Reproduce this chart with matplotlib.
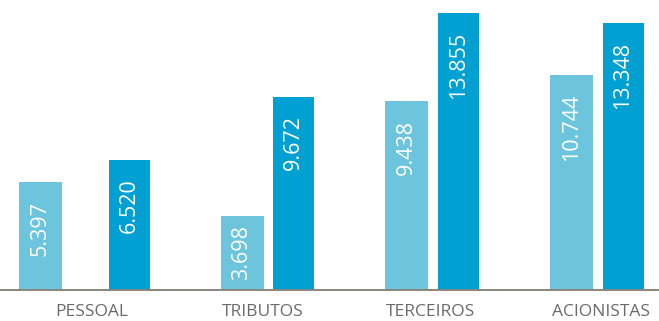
import matplotlib.pyplot as plt

# Valores (em milhares)
categorias = ['PESSOAL', 'TRIBUTOS', 'TERCEIROS', 'ACIONISTAS']
serie_anterior = [5.397, 3.698, 9.438, 10.744]
serie_atual = [6.520, 9.672, 13.855, 13.348]
rotulos_anterior = ['5.397', '3.698', '9.438', '10.744']
rotulos_atual = ['6.520', '9.672', '13.855', '13.348']

# Layout: x em pixels, eixo y com 20 px por unidade
x_anterior = [40.5, 242, 406.5, 571.5]
x_atual = [129.5, 293.5, 458.5, 623]
x_rotulos = [92, 263, 430, 601]

cor_clara = '#6cc5dc'
cor_escura = '#00a1d2'

fig = plt.figure(figsize=(6.59, 3.21), dpi=100)
ax = fig.add_axes([0, 0, 1, 1])
ax.set_xlim(0, 659)
ax.set_ylim(-31 / 20, 290 / 20)

ax.bar(x_anterior, serie_anterior, width=43, color=cor_clara, zorder=2)
ax.bar(x_atual, serie_atual, width=41, color=cor_escura, zorder=2)

# rótulos verticais dentro das barras
def topo_texto(v, txt):
    comp = len(txt) * 0.56
    return max(v - 0.95, v / 2 + comp / 2)

for xs, vals, rots in [(x_anterior, serie_anterior, rotulos_anterior),
                       (x_atual, serie_atual, rotulos_atual)]:
    for x, v, t in zip(xs, vals, rots):
        ax.text(x, topo_texto(v, t), t, rotation=90, ha='center', va='top',
                color='white', fontsize=15.5, family='Open Sans', zorder=3)

ax.axhline(0, color='#8a857d', linewidth=1.4, zorder=4)

for x, c in zip(x_rotulos, categorias):
    ax.text(x, -22.5 / 20, c, ha='center', va='center', color='#6a6a6a',
            fontsize=12.5, family='Open Sans')

ax.axis('off')
fig.savefig('out.png', dpi=100)
